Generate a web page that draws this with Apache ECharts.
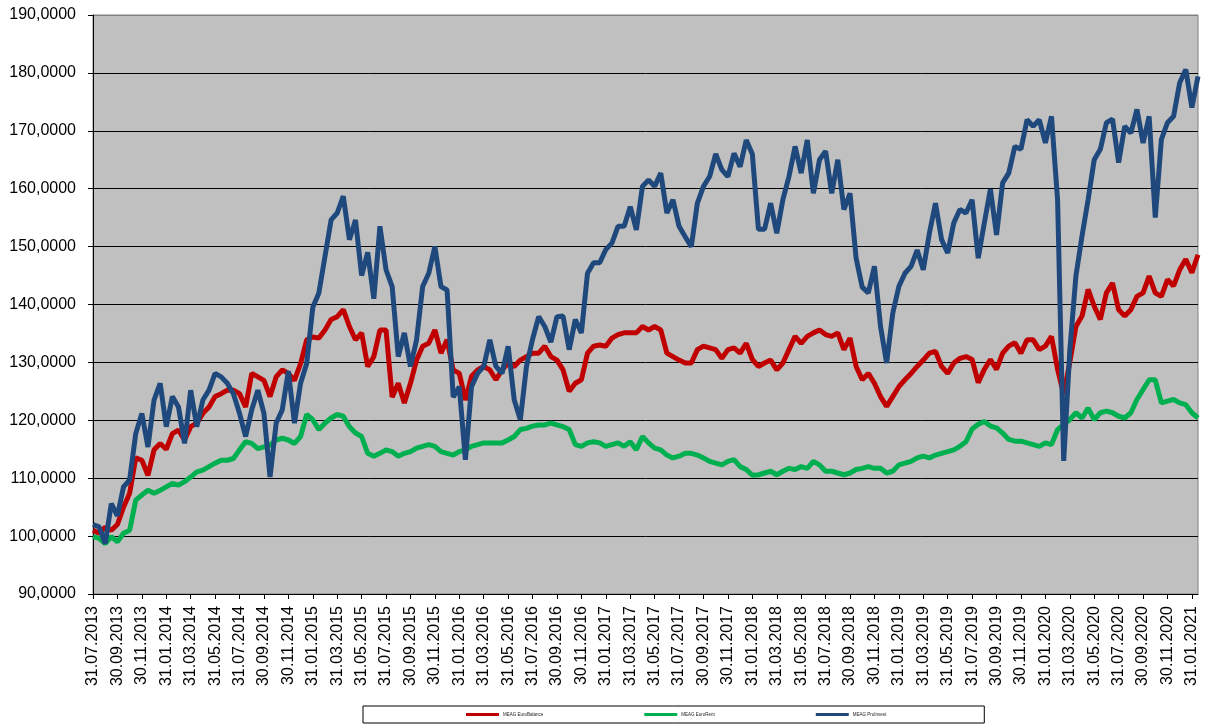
<!DOCTYPE html>
<head>
    <meta charset="utf-8">
    <title>MEAG</title>
    <script src="https://cdn.jsdelivr.net/npm/echarts@6/dist/echarts.min.js"></script>
</head>
<body style="margin:0;background:#fff">
<div id="main" style="width:1206px;height:726px"></div>
<script type="text/javascript">
// tick labels, one every two months
var tickLabels = ['31.07.2013','30.09.2013','30.11.2013','31.01.2014','31.03.2014','31.05.2014','31.07.2014','30.09.2014','30.11.2014',
    '31.01.2015','31.03.2015','31.05.2015','31.07.2015','30.09.2015','30.11.2015','31.01.2016','31.03.2016','31.05.2016','31.07.2016',
    '30.09.2016','30.11.2016','31.01.2017','31.03.2017','31.05.2017','31.07.2017','30.09.2017','30.11.2017','31.01.2018','31.03.2018',
    '31.05.2018','31.07.2018','30.09.2018','30.11.2018','31.01.2019','31.03.2019','31.05.2019','31.07.2019','30.09.2019','30.11.2019',
    '31.01.2020','31.03.2020','31.05.2020','31.07.2020','30.09.2020','30.11.2020','31.01.2021'];

// half-monthly values
var euroBalance = [
    101,100.5,101.5,101,102,105,107.4,113.5,113.1,110.5,114.9,116,115,117.7,118.3,116.6,118.9,119.5,121.2,122.3,
    124.1,124.6,125.2,125.2,124.6,122.3,128.1,127.5,126.9,124.1,127.5,128.7,128.1,126.9,129.8,133.9,134.4,
    134.2,135.6,137.4,137.9,139.1,136.2,133.9,135.1,129.3,131,135.6,135.6,124,126.4,123,126.4,130.4,132.8,133.3,
    135.6,131.6,133.9,128.7,128.1,123.5,127.6,128.7,129.3,128.7,127,128.7,129.9,129.3,130.4,131,131.6,
    131.6,132.8,131,130.4,128.7,125,126.4,127,131.6,132.8,133,132.8,134.2,134.8,135.1,135.1,135.1,136.2,135.6,
    136.2,135.6,131.6,131,130.4,129.9,129.9,132.2,132.8,132.5,132.2,130.7,132.2,132.5,131.6,133.3,130.5,
    129.3,129.9,130.4,128.7,129.9,132.2,134.5,133.3,134.5,135.1,135.6,134.8,134.5,135.1,132.2,134.2,129.3,127,
    128.1,126.4,124.1,122.4,124.1,125.8,127,128.1,129.3,130.4,131.6,131.9,129.3,128.1,129.9,130.7,131,130.5,
    126.5,128.8,130.5,128.8,131.6,132.8,133.4,131.6,133.9,133.9,132.2,132.8,134.5,128.8,124.5,130,136.2,138,
    142.6,139.7,137.4,142,143.7,139.1,138,139.1,141.4,142,144.9,142,141.4,144.3,143.2,146,147.8,145.5,148.6
];
var euroRent = [
    99.9,99.6,98.7,99.9,99,100.5,101,106.2,107.1,107.9,107.4,107.9,108.5,109.1,108.8,109.4,110.2,111.1,111.4,112,
    112.6,113.1,113.1,113.4,114.9,116.3,116,115.1,115.4,115.7,116.6,116.9,116.6,116,117.2,121,120.1,
    118.4,119.5,120.4,121,120.7,118.9,117.8,117.2,114.3,113.8,114.3,114.9,114.6,113.8,114.3,114.6,115.2,115.5,115.8,
    115.5,114.6,114.3,114,114.6,114.9,115.5,115.8,116.1,116.1,116.1,116.1,116.6,117.2,118.4,118.6,119,
    119.2,119.2,119.5,119.2,118.9,118.4,115.8,115.5,116.1,116.3,116.1,115.5,115.8,116.1,115.5,116.3,114.9,117.2,116.1,
    115.2,114.9,114,113.5,113.8,114.3,114.3,114,113.5,112.9,112.6,112.3,112.9,113.2,112,111.5,110.5,
    110.6,110.9,111.2,110.6,111.2,111.7,111.5,112,111.7,112.9,112.3,111.2,111.2,110.9,110.6,110.9,111.5,111.7,
    112,111.7,111.7,110.9,111.2,112.3,112.6,112.9,113.5,113.8,113.5,114,114.3,114.6,114.9,115.5,116.3,118.5,
    119.3,119.8,119,118.7,117.8,116.7,116.4,116.4,116.1,115.8,115.5,116.1,115.8,118.4,119.3,120.1,121.3,120.4,
    122.1,120.1,121.3,121.6,121.3,120.7,120.4,121.3,123.6,125.3,127,127,123,123.3,123.6,123,122.7,121.3,120.4
];
var proInvest = [
    102,101.6,98.7,105.6,103.5,108.5,109.7,117.7,121.2,115.4,123.5,126.4,118.9,124.1,122.3,116,125.2,118.9,123.5,125.2,
    128.1,127.5,126.4,124.6,121.2,117.2,121.8,125.2,121.2,110.2,119.5,121.8,128.5,119.5,126.4,129.8,139.5,
    142,148.3,154.6,155.8,158.7,151.2,154.6,145,149,141,153.5,146,143.1,131,135.1,129.3,133.9,143.1,145.4,
    150,143.1,142.5,124,125.8,113.2,125.8,128.1,129.3,133.9,129.3,128.1,132.8,123.5,120.1,129.3,134,
    137.9,136.2,133.5,137.9,138,132.2,137.4,135.1,145.4,147.2,147.2,149.5,150.6,153.5,153.5,156.9,152.9,160.4,161.5,
    160.4,162.7,155.8,158.1,153.5,151.7,150,157.5,160.4,162.1,166,163.3,162.1,166.1,163.8,168.4,166,
    153,153,157.5,152.3,158.1,162.1,167.3,162.7,168.4,159.2,165,166.5,159.2,165,156.4,159.2,148,143,
    142,146.6,136.2,129.9,138.5,143.1,145.4,146.6,149.4,146,152.3,157.5,151.2,148.9,154.1,156.4,155.8,158.1,
    148,154.1,159.9,152,161,162.7,167.3,166.8,171.9,170.8,171.9,167.9,172.5,158.1,113,132,144.9,151.8,
    158.1,165,166.8,171.4,172,164.5,170.8,169.6,173.7,167.9,172.5,155,168.5,171.4,172.5,178.3,180.6,174,179.4
];

// categories: every tick label plus three half-month steps between, one extra step at the end
var categories = [];
for (var k = 0; k < tickLabels.length; k++) {
    categories.push(tickLabels[k]);
    var steps = k < tickLabels.length - 1 ? 3 : 1;
    for (var j = 1; j <= steps; j++) categories.push(tickLabels[k] + ' +' + j);
}

var myChart = echarts.init(document.getElementById('main'));
var font = 'Arial, "Liberation Sans", sans-serif';

var option = {
    animation: false,
    grid: {
        left: 93, right: 8, top: 15, bottom: 132,
        show: true,
        backgroundColor: '#C0C0C0',
        borderColor: '#808080',
        borderWidth: 1
    },
    legend: {
        left: 363,
        top: 706,
        padding: [6, 98, 6, 103],
        itemGap: 101,
        itemWidth: 33,
        itemHeight: 3,
        icon: 'rect',
        backgroundColor: '#fff',
        borderColor: '#000',
        borderWidth: 1,
        borderRadius: 0,
        textStyle: { fontSize: 4.5, color: '#222', fontFamily: font, padding: [0, 0, 0, -1] },
        data: ['MEAG EuroBalance', 'MEAG EuroRent', 'MEAG ProInvest']
    },
    xAxis: {
        type: 'category',
        data: categories,
        boundaryGap: false,
        axisLine: { lineStyle: { color: '#000', width: 1 } },
        axisTick: { interval: 3, length: 5, lineStyle: { color: '#000' } },
        axisLabel: {
            interval: 3,
            rotate: 90,
            margin: 12,
            fontSize: 16,
            color: '#000',
            fontFamily: font
        },
        splitLine: { show: false }
    },
    yAxis: {
        type: 'value',
        min: 90,
        max: 190,
        interval: 10,
        axisLine: { show: true, lineStyle: { color: '#000', width: 1 } },
        axisTick: { show: true, length: 5, lineStyle: { color: '#000' } },
        axisLabel: {
            margin: 17,
            fontSize: 16,
            color: '#000',
            fontFamily: font,
            formatter: function (v) { return v.toFixed(4).replace('.', ','); }
        },
        // top line stays grey like the plot border
        splitLine: { lineStyle: { width: 1, color: ['#000','#000','#000','#000','#000','#000','#000','#000','#000','#000','#808080'] } }
    },
    series: [
        {
            name: 'MEAG EuroBalance', type: 'line', data: euroBalance,
            showSymbol: false, symbol: 'none',
            color: '#C00000', lineStyle: { width: 5, color: '#C00000' }
        },
        {
            name: 'MEAG EuroRent', type: 'line', data: euroRent,
            showSymbol: false, symbol: 'none',
            color: '#00B050', lineStyle: { width: 5, color: '#00B050' }
        },
        {
            name: 'MEAG ProInvest', type: 'line', data: proInvest,
            showSymbol: false, symbol: 'none',
            color: '#1F497D', lineStyle: { width: 5, color: '#1F497D' }
        }
    ]
};
myChart.setOption(option);
</script>
</body>
